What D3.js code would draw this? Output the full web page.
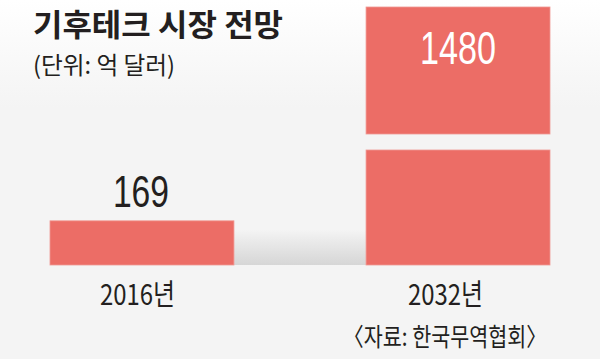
<!DOCTYPE html>
<html><head><meta charset="utf-8">
<script src="https://cdn.jsdelivr.net/npm/d3@7"></script>
<style>
html,body{margin:0;padding:0;background:#f4f4f4;}
svg{display:block;}
</style></head>
<body>
<svg id="chart" width="600" height="359"></svg>
<script>
const categories = ["2016년", "2032년"];
const values = [169, 1480];
const title = "기후테크 시장 전망";
const unitLabel = "(단위: 억 달러)";
const sourceLabel = "〈자료: 한국무역협회〉";
// axis break (values between these are cut out of the tall bar)
const breakRange = [440, 1000];

const W = 600, H = 359;
const svg = d3.select("#chart");
const defs = svg.append("defs");
const bg = defs.append("linearGradient").attr("id","bg").attr("x1",0).attr("y1",0).attr("x2",0).attr("y2",1);
bg.append("stop").attr("offset","0").attr("stop-color","#ffffff");
bg.append("stop").attr("offset","0.3").attr("stop-color","#f4f4f4");
bg.append("stop").attr("offset","1").attr("stop-color","#f4f4f4");
const fl = defs.append("linearGradient").attr("id","floor").attr("x1",0).attr("y1",0).attr("x2",0).attr("y2",1);
fl.append("stop").attr("offset","0").attr("stop-color","#f4f4f4");
fl.append("stop").attr("offset","0.25").attr("stop-color","#ececec");
fl.append("stop").attr("offset","1").attr("stop-color","#d6d6d6");

svg.append("rect").attr("width",W).attr("height",H).attr("fill","url(#bg)");

const x = d3.scaleBand().domain(categories).range([50, 550]).paddingInner(0.418).paddingOuter(0);
const y = d3.scaleLinear().domain([0, breakRange[0], breakRange[1], 1480]).range([265, 150, 134, 7]);

// floor shadow between bars
svg.append("rect")
  .attr("x", x(categories[0]) + x.bandwidth())
  .attr("y", 230)
  .attr("width", x(categories[1]) - x(categories[0]) - x.bandwidth())
  .attr("height", y(0) - 230)
  .attr("fill", "url(#floor)");

const barColor = "#ec6d66";
values.forEach((v, i) => {
  const c = categories[i];
  const segs = v > breakRange[0] ? [[0, breakRange[0]], [breakRange[1], v]] : [[0, v]];
  segs.forEach(s => {
    svg.append("rect")
      .attr("x", x(c)).attr("width", x.bandwidth())
      .attr("y", y(s[1])).attr("height", y(s[0]) - y(s[1]))
      .attr("fill", barColor).attr("stroke", "#f19893").attr("stroke-width", 0.8);
  });
});

// value labels
const numFont = "'Liberation Sans', Arial, sans-serif";
values.forEach((v, i) => {
  const c = categories[i];
  const big = v > breakRange[0];
  const s = String(v);
  svg.append("text")
    .attr("x", x(c) + x.bandwidth()/2 + (big ? 0 : -1))
    .attr("y", big ? y(v) + 57 : y(v) - 14)
    .attr("text-anchor", "middle")
    .attr("font-family", numFont)
    .attr("font-size", big ? 47 : 44.5)
    .attr("textLength", s.length * (big ? 19 : 18.7))
    .attr("lengthAdjust", "spacingAndGlyphs")
    .attr("fill", big ? "#ffffff" : "#231f20")
    .text(s);
});

// category labels
categories.forEach((c, i) => {
  svg.append("text")
    .attr("x", x(c) + x.bandwidth()/2 - (i === 0 ? 4.5 : 12.5))
    .attr("y", 305)
    .attr("text-anchor", "middle")
    .attr("font-family", "'Noto Sans CJK KR', sans-serif")
    .attr("font-size", 29)
    .attr("textLength", 75)
    .attr("lengthAdjust", "spacingAndGlyphs")
    .attr("fill", "#231f20")
    .text(c);
});

svg.append("text")
  .attr("x", 33).attr("y", 36)
  .attr("font-family", "'Noto Sans CJK KR', sans-serif")
  .attr("font-weight", 700)
  .attr("font-size", 31)
  .attr("textLength", 250)
  .attr("lengthAdjust", "spacingAndGlyphs")
  .attr("fill", "#231f20")
  .text(title);

svg.append("text")
  .attr("x", 33).attr("y", 74)
  .attr("font-family", "'Noto Sans CJK KR', sans-serif")
  .attr("font-size", 24)
  .attr("textLength", 142)
  .attr("lengthAdjust", "spacingAndGlyphs")
  .attr("fill", "#231f20")
  .text(unitLabel);

svg.append("text")
  .attr("x", 547).attr("y", 346)
  .attr("text-anchor", "end")
  .attr("font-family", "'Noto Sans CJK KR', sans-serif")
  .attr("font-size", 25)
  .attr("textLength", 204)
  .attr("lengthAdjust", "spacingAndGlyphs")
  .attr("fill", "#231f20")
  .text(sourceLabel);
</script>
</body></html>
